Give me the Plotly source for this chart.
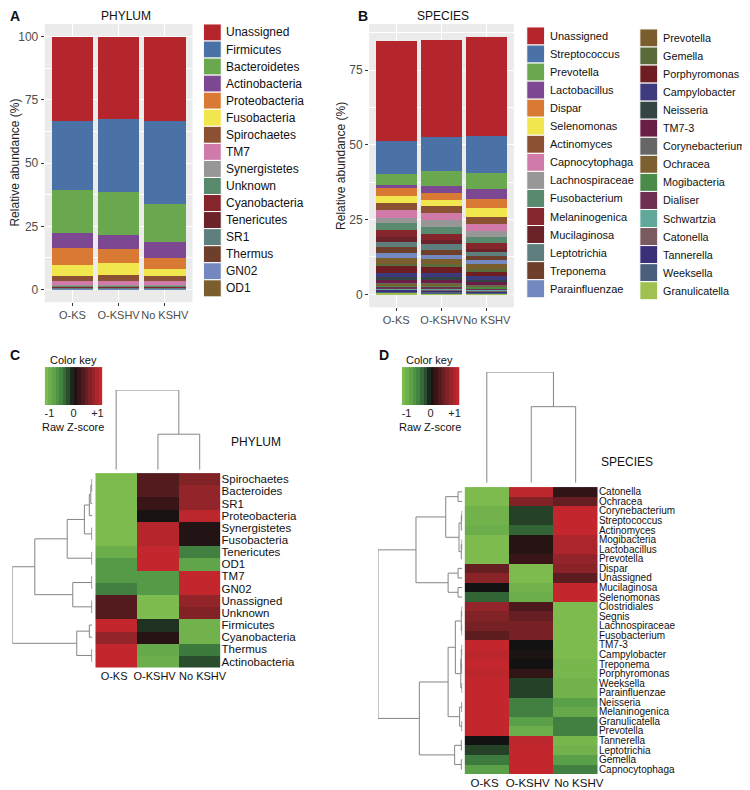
import plotly.graph_objects as go

# the page body keeps the browser's default 8px margin, so the figure is
# sized to the window minus that margin and positions are given in window pixels
PAGE = 8
W, H = 750 - PAGE, 790 - PAGE

groups = ["O-KS", "O-KSHV", "No KSHV"]

# ---- panel A: phylum relative abundance (legend order, top of stack first)
phylum_names = ["Unassigned", "Firmicutes", "Bacteroidetes", "Actinobacteria", "Proteobacteria",
                "Fusobacteria", "Spirochaetes", "TM7", "Synergistetes", "Unknown", "Cyanobacteria",
                "Tenericutes", "SR1", "Thermus", "GN02", "OD1"]
phylum_oks = [33.5, 27.2, 16.9, 5.9, 6.6, 4.4, 2.2, 1.3, 0.4, 0.3, 0.3, 0.3, 0.2, 0.2, 0.2, 0.1]
phylum_okshv = [32.5, 29.0, 16.9, 5.5, 5.5, 5.0, 2.3, 1.3, 0.4, 0.3, 0.3, 0.3, 0.2, 0.2, 0.2, 0.1]
phylum_nokshv = [33.4, 32.8, 15.1, 6.3, 4.4, 2.7, 2.0, 1.3, 0.4, 0.3, 0.3, 0.3, 0.2, 0.2, 0.2, 0.1]
phylum_colors = ["#B5262C", "#4A72A6", "#6AA84F", "#7B4891", "#D97A34", "#F2E64F", "#8C5132",
                 "#D07AAA", "#979797", "#5A8A6E", "#85262C", "#6B2229", "#5F7F7F", "#6E3F2A",
                 "#7488C0", "#7A5E2E"]

# ---- panel B: species relative abundance
species_names = ["Unassigned", "Streptococcus", "Prevotella", "Lactobacillus", "Dispar",
                 "Selenomonas", "Actinomyces", "Capnocytophaga", "Lachnospiraceae", "Fusobacterium",
                 "Melaninogenica", "Mucilaginosa", "Leptotrichia", "Treponema", "Parainfluenzae",
                 "Prevotella", "Gemella", "Porphyromonas", "Campylobacter", "Neisseria", "TM7-3",
                 "Corynebacterium", "Ochracea", "Mogibacteria", "Dialiser", "Schwartzia",
                 "Catonella", "Tannerella", "Weeksella", "Granulicatella"]
species_oks = [33.6, 10.8, 3.9, 0.8, 2.9, 2.2, 2.5, 2.4, 2.0, 2.2, 2.3, 1.7, 1.6, 2.0, 1.9,
               2.0, 0.4, 2.3, 1.5, 1.1, 0.8, 0.4, 0.5, 0.5, 0.4, 0.3, 0.3, 0.5, 0.5, 0.5]
species_okshv = [32.4, 11.3, 5.0, 2.4, 2.2, 2.0, 2.5, 2.4, 2.2, 2.3, 2.0, 1.3, 2.0, 1.8, 1.5,
                 1.7, 0.8, 2.0, 1.5, 1.0, 0.8, 0.4, 0.5, 0.5, 0.4, 0.4, 0.3, 0.5, 0.5, 0.4]
species_nokshv = [33.3, 12.2, 5.4, 3.3, 3.0, 3.0, 2.6, 2.2, 1.9, 2.0, 2.0, 1.1, 1.3, 1.4, 1.3,
                  1.8, 0.8, 1.5, 1.2, 0.9, 0.8, 0.3, 0.4, 0.5, 0.3, 0.3, 0.3, 0.4, 0.4, 0.3]
species_colors = ["#B5262C", "#4A72A6", "#6AA84F", "#7B4891", "#D97A34", "#F2E64F", "#8C5132",
                  "#D07AAA", "#979797", "#5A8A6E", "#85262C", "#6B2229", "#5F7F7F", "#6E3F2A",
                  "#7488C0", "#7A5E2E", "#5B6B3A", "#6E1E22", "#3E3A7E", "#344444", "#6A1E46",
                  "#666666", "#7D6030", "#4A8A4A", "#6E3050", "#5FA89A", "#7A5A5E", "#3A307A",
                  "#4A5E7E", "#A0C050"]

# ---- panel C: phylum heatmap (row z-scores)
heat_phylum_rows = ["Spirochaetes", "Bacteroides", "SR1", "Proteobacteria", "Synergistetes",
                    "Fusobacteria", "Tenericutes", "OD1", "TM7", "GN02", "Unassigned", "Unknown",
                    "Firmicutes", "Cyanobacteria", "Thermus", "Actinobacteria"]
heat_phylum_z = [
    [-1.0, 0.35, 0.6], [-1.0, 0.35, 0.7], [-1.0, 0.2, 0.7], [-1.0, 0.03, 0.95],
    [-1.0, 0.9, 0.08], [-1.0, 0.9, 0.08], [-0.85, 1.0, -0.45], [-0.65, 1.0, -0.75],
    [-0.65, -0.65, 1.0], [-0.45, -0.65, 1.0], [0.35, -1.0, 0.7], [0.35, -1.0, 0.6],
    [1.0, -0.1, -0.9], [0.7, 0.1, -0.9], [1.0, -0.8, -0.4], [1.0, -0.85, -0.2],
]
# hierarchical merges: (left, right, height); leaves 0..n-1, merge k -> n+k
phylum_row_merges = [(0, 1, 0.4), (16, 2, 1.5), (17, 3, 3), (4, 5, 0.5), (18, 19, 8),
                     (6, 7, 0.5), (20, 21, 25.3), (8, 9, 0.5), (10, 11, 0.5), (23, 24, 19.7),
                     (22, 25, 58), (12, 13, 3), (14, 15, 0.5), (27, 28, 15.7), (26, 29, 80.7)]
phylum_col_merges = [(1, 2, 35.7), (0, 3, 80)]

# ---- panel D: species heatmap (row z-scores)
heat_species_rows = ["Catonella", "Ochracea", "Corynebacterium", "Streptococcus", "Actinomyces",
                     "Mogibacteria", "Lactobacillus", "Prevotella", "Dispar", "Unassigned",
                     "Mucilaginosa", "Selenomonas", "Clostridiales", "Segnis", "Lachnospiraceae",
                     "Fusobacterium", "TM7-3", "Campylobacter", "Treponema", "Porphyromonas",
                     "Weeksella", "Parainfluenzae", "Neisseria", "Melaninogenica", "Granulicatella",
                     "Prevotella", "Tannerella", "Leptotrichia", "Gemella", "Capnocytophaga"]
heat_species_z = [
    [-1.0, 0.95, 0.15], [-1.0, 0.6, 0.45], [-0.9, -0.15, 1.0], [-0.9, -0.15, 1.0],
    [-0.85, -0.3, 1.0], [-1.0, 0.1, 0.85], [-1.0, 0.1, 0.85], [-1.0, 0.2, 0.7],
    [0.45, -1.0, 0.65], [0.65, -1.0, 0.4], [0.0, -0.9, 1.0], [-0.3, -0.85, 1.0],
    [0.7, 0.3, -1.0], [0.6, 0.45, -1.0], [0.55, 0.55, -1.0], [0.4, 0.55, -1.0],
    [1.0, 0.0, -1.0], [0.95, 0.05, -1.0], [1.0, 0.0, -0.95], [0.95, 0.15, -0.95],
    [1.0, -0.15, -0.9], [1.0, -0.15, -0.9], [1.0, -0.45, -0.7], [1.0, -0.45, -0.8],
    [1.0, -0.7, -0.45], [1.0, -0.85, -0.45], [0.0, 0.95, -0.95], [-0.15, 1.0, -0.9],
    [-0.4, 1.0, -0.7], [-0.7, 1.0, -0.45],
]
species_row_merges = [(0, 1, 4.3), (2, 3, 0.3), (31, 4, 1), (5, 6, 0.3), (33, 7, 1),
                      (32, 34, 3.3), (30, 35, 16.7), (8, 9, 4.3), (10, 11, 4.3), (37, 38, 14.3),
                      (36, 39, 46.7), (12, 13, 0.3), (14, 15, 0.3), (41, 42, 1), (16, 17, 0.3),
                      (18, 19, 0.5), (44, 45, 1), (20, 21, 0.3), (46, 47, 1.5), (43, 48, 7),
                      (22, 23, 0.5), (24, 25, 0.5), (50, 51, 2.7), (49, 52, 14.3), (26, 27, 1),
                      (28, 29, 1), (54, 55, 7.7), (53, 56, 43.3), (40, 57, 85)]
species_col_merges = [(1, 2, 76.3), (0, 3, 111)]

key_levels = [-1, -0.87, -0.73, -0.6, -0.47, -0.33, -0.2, -0.07,
              0.07, 0.2, 0.33, 0.47, 0.6, 0.73, 0.87, 1]

heat_scale = [[0.0, "#7DBB4E"], [0.15, "#5AA049"], [0.3, "#3C7A3E"], [0.42, "#26452A"],
              [0.5, "#121212"], [0.6, "#3A1517"], [0.75, "#6E2024"], [0.88, "#9E252A"],
              [1.0, "#C4262E"]]

FONT = "Arial, Liberation Sans, sans-serif"
DENDRO = "#858585"


def px(x):
    return (x - PAGE) / W


def py(y):
    return 1 - (y - PAGE) / H


def dendro_xy(merges, n):
    """U-shaped segments: returns (positions, heights) with None breaks."""
    pos = list(range(n))
    hgt = [0.0] * n
    p_line, h_line = [], []
    for a, b, h in merges:
        p_line += [pos[a], pos[a], pos[b], pos[b], None]
        h_line += [hgt[a], h, h, hgt[b], None]
        pos.append((pos[a] + pos[b]) / 2)
        hgt.append(h)
    return p_line, h_line


fig = go.Figure()

# stacked bars (bottom of stack added first)
stacks = [
    ("x", "y", phylum_names, phylum_colors, phylum_oks, phylum_okshv, phylum_nokshv),
    ("x2", "y2", species_names, species_colors, species_oks, species_okshv, species_nokshv),
]
for xa, ya, names, cols, v1, v2, v3 in stacks:
    for name, col, a, b, c in reversed(list(zip(names, cols, v1, v2, v3))):
        fig.add_trace(go.Bar(x=groups, y=[a, b, c], name=name, marker=dict(color=col, line=dict(width=0)),
                             showlegend=False, xaxis=xa, yaxis=ya))

# heatmaps
for xa, ya, z, rows in [("x3", "y3", heat_phylum_z, heat_phylum_rows),
                        ("x7", "y7", heat_species_z, heat_species_rows)]:
    fig.add_trace(go.Heatmap(z=z, x=[0, 1, 2], y=list(range(len(rows))), colorscale=heat_scale,
                             zmin=-1, zmax=1, showscale=False, xaxis=xa, yaxis=ya))

# dendrograms
for merges, n, xa, ya, is_row in [
    (phylum_row_merges, 16, "x4", "y4", True),
    (phylum_col_merges, 3, "x5", "y5", False),
    (species_row_merges, 30, "x8", "y8", True),
    (species_col_merges, 3, "x9", "y9", False),
]:
    p, h = dendro_xy(merges, n)
    xs, ys = (h, p) if is_row else (p, h)
    fig.add_trace(go.Scatter(x=xs, y=ys, mode="lines", line=dict(color=DENDRO, width=1),
                             showlegend=False, hoverinfo="skip", xaxis=xa, yaxis=ya))

# colour keys
dk = 2.4 / len(key_levels)
for xa, ya in [("x6", "y6"), ("x10", "y10")]:
    fig.add_trace(go.Heatmap(z=[key_levels], x0=-1.2 + dk / 2, dx=dk, y=[0], colorscale=heat_scale,
                             zmin=-1, zmax=1, showscale=False, xaxis=xa, yaxis=ya, hoverinfo="skip"))

hidden = dict(visible=False, showgrid=False, zeroline=False)
gg_x = dict(showgrid=True, gridcolor="white", gridwidth=1.1, ticks="outside", ticklen=3,
            tickcolor="#333333", tickfont=dict(size=11, color="#4D4D4D"), zeroline=False,
            range=[-0.6, 2.6], showline=False, tickangle=0)
gg_y = dict(showgrid=True, gridcolor="white", gridwidth=1.1, ticks="outside", ticklen=3,
            tickcolor="#333333", tickfont=dict(size=12, color="#4D4D4D"), zeroline=False,
            minor=dict(tick0=0, dtick=12.5, showgrid=True, gridcolor="white", gridwidth=0.5),
            showline=False)
# column labels under the heatmaps sit slightly spread, as in the original
hm_x = dict(range=[-0.5, 2.5], tickvals=[-0.05, 0.92, 2.07], ticktext=groups, ticks="",
            showgrid=False, zeroline=False, showline=False, tickangle=0)
key_x = dict(range=[-1.2, 1.2], tickvals=[-1, 0, 1], ticktext=["-1", "0", "+1"], ticks="",
             showgrid=False, zeroline=False, showline=False, tickfont=dict(size=11, color="#222222"))

fig.update_layout(
    width=W, height=H, margin=dict(l=0, r=0, t=0, b=0),
    paper_bgcolor="white", plot_bgcolor="white",
    font=dict(family=FONT, color="#222222"),
    barmode="stack", bargap=0.1,
    xaxis=dict(domain=[px(45), px(194)], anchor="y", **gg_x),
    yaxis=dict(domain=[py(302), py(23)], anchor="x", range=[-5, 105],
               tickvals=[0, 25, 50, 75, 100], **gg_y),
    xaxis2=dict(domain=[px(372), px(518)], anchor="y2", **gg_x),
    yaxis2=dict(domain=[py(307), py(23)], anchor="x2", range=[-4.3, 90.4],
                tickvals=[0, 25, 50, 75], **gg_y),
    xaxis3=dict(domain=[px(96), px(222.3)], anchor="y3", tickfont=dict(size=11, color="#111111"), **hm_x),
    yaxis3=dict(domain=[py(668.3), py(473.3)], anchor="x3", side="right", range=[15.5, -0.5],
                tickvals=list(range(16)), ticktext=heat_phylum_rows, ticks="", showgrid=False,
                zeroline=False, tickfont=dict(size=11.5, color="#111111")),
    xaxis4=dict(domain=[px(12.3), px(93)], anchor="y4", range=[80.7, 0], **hidden),
    yaxis4=dict(domain=[py(668.3), py(473.3)], anchor="x4", range=[15.5, -0.5], **hidden),
    xaxis5=dict(domain=[px(96), px(222.3)], anchor="y5", range=[-0.5, 2.5], **hidden),
    yaxis5=dict(domain=[py(470), py(390)], anchor="x5", range=[0, 80], **hidden),
    xaxis6=dict(domain=[px(45), px(103)], anchor="y6", **key_x),
    yaxis6=dict(domain=[py(405), py(367)], anchor="x6", range=[-0.5, 0.5], **hidden),
    xaxis7=dict(domain=[px(468.3), px(602.7)], anchor="y7", tickfont=dict(size=11.5, color="#111111"), **hm_x),
    yaxis7=dict(domain=[py(775), py(487.3)], anchor="x7", side="right", range=[29.5, -0.5],
                tickvals=list(range(30)), ticktext=heat_species_rows, ticks="", showgrid=False,
                zeroline=False, tickfont=dict(size=10, color="#111111")),
    xaxis8=dict(domain=[px(381), px(466)], anchor="y8", range=[85, 0], **hidden),
    yaxis8=dict(domain=[py(775), py(487.3)], anchor="x8", range=[29.5, -0.5], **hidden),
    xaxis9=dict(domain=[px(468.3), px(602.7)], anchor="y9", range=[-0.5, 2.5], **hidden),
    yaxis9=dict(domain=[py(483), py(372)], anchor="x9", range=[0, 111], **hidden),
    xaxis10=dict(domain=[px(405), px(463)], anchor="y10", **key_x),
    yaxis10=dict(domain=[py(405), py(367)], anchor="x10", range=[-0.5, 0.5], **hidden),
)

# ggplot grey panels
for xr, yr in [("x domain", "y domain"), ("x2 domain", "y2 domain")]:
    fig.add_shape(type="rect", xref=xr, yref=yr, x0=0, x1=1, y0=0, y1=1,
                  fillcolor="#EBEBEB", line=dict(width=0), layer="below")

# legends
legends = [
    (phylum_names, phylum_colors, 205, 223, 23, 17.1, 12),
    (species_names[:15], species_colors[:15], 531, 549, 26, 18.1, 11),
    (species_names[15:], species_colors[15:], 645, 663, 28, 18.1, 10.8),
]
for names, cols, x0, x1, ytop, step, fs in legends:
    for i, (name, col) in enumerate(zip(names, cols)):
        fig.add_shape(type="rect", xref="paper", yref="paper", x0=px(x0), x1=px(x1),
                      y0=py(ytop + (i + 1) * step), y1=py(ytop + i * step),
                      fillcolor=col, line=dict(color="white", width=1))
        fig.add_annotation(x=px(x1 + 3), y=py(ytop + (i + 0.5) * step), xref="paper", yref="paper",
                           text=name, showarrow=False, xanchor="left", yanchor="middle",
                           font=dict(size=fs, color="#111111"))


def label(x, y, text, size=12, bold=False, angle=0, color="#111111"):
    fig.add_annotation(x=px(x), y=py(y), xref="paper", yref="paper", showarrow=False,
                       text=f"<b>{text}</b>" if bold else text, textangle=angle,
                       xanchor="center", yanchor="middle", font=dict(size=size, color=color))


label(15, 15, "A", 14, True)
label(366, 15, "B", 14, True)
label(15, 355, "C", 14, True)
label(387, 355, "D", 14, True)
label(127, 15, "PHYLUM")
label(447, 15, "SPECIES")
label(15, 162, "Relative abundance (%)", angle=-90, color="#222222")
label(343, 165, "Relative abundance (%)", angle=-90, color="#222222")
label(74, 360, "Color key", 11)
label(74, 427, "Raw Z-score", 11)
label(433, 360, "Color key", 11)
label(433, 427, "Raw Z-score", 11)
label(258, 442, "PHYLUM")
label(632, 462, "SPECIES")

fig.write_html("out.html")
